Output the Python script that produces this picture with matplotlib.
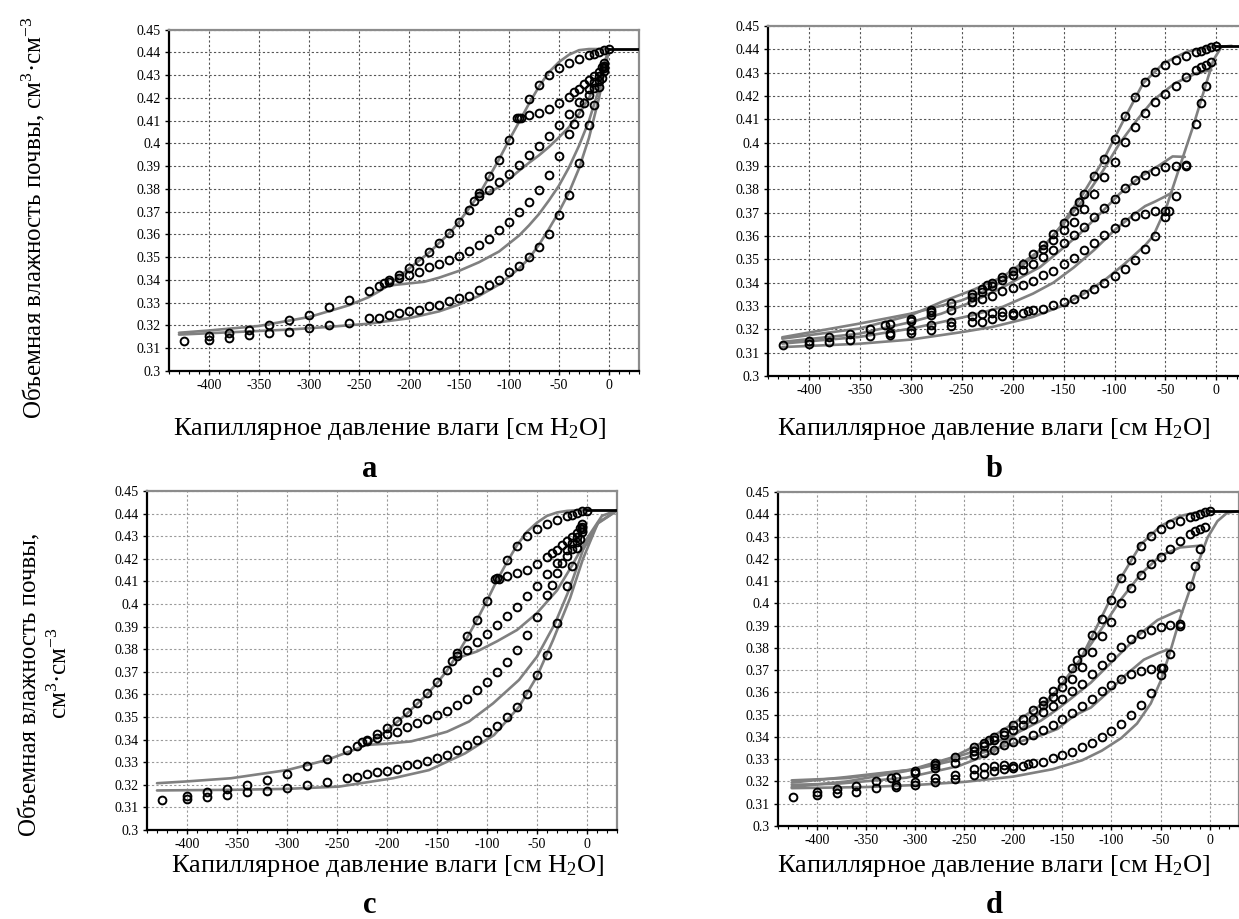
import matplotlib
matplotlib.use("Agg")
import matplotlib.pyplot as plt
from matplotlib.ticker import MultipleLocator, FuncFormatter

plt.rcParams['font.family'] = ['Liberation Serif', 'DejaVu Serif']
plt.rcParams['mathtext.fontset'] = 'custom'
plt.rcParams['mathtext.rm'] = 'Liberation Serif'
plt.rcParams['mathtext.it'] = 'Liberation Serif:italic'
plt.rcParams['mathtext.bf'] = 'Liberation Serif:bold'
plt.rcParams['axes.unicode_minus'] = False

# ---------------- observed data (circles) ----------------
# main drying branch (shared by all panels)
main_dry_x = [0, -5, -10, -15, -20, -30, -40, -50, -60, -70, -80, -90, -100, -110, -120, -130, -135, -140, -150,
              -160, -170, -180, -190, -200, -210, -220, -225, -230, -240, -260, -280, -300, -320, -340, -360, -380,
              -400, -425]
main_dry_y = [0.4413, 0.4411, 0.4401, 0.4392, 0.4389, 0.4370, 0.4355, 0.4333, 0.4301, 0.4258, 0.4194, 0.4113,
              0.4015, 0.3929, 0.3857, 0.3782, 0.3747, 0.3709, 0.3657, 0.3607, 0.3562, 0.3521, 0.3482, 0.3452,
              0.3423, 0.3400, 0.3388, 0.3373, 0.3353, 0.3312, 0.3282, 0.3246, 0.3222, 0.3200, 0.3180, 0.3166,
              0.3152, 0.3132]

# panels a, c : wetting branches
ac_wet_x = [-400, -380, -360, -340, -320, -300, -280, -260, -240, -230, -220, -210, -200, -190, -180, -170, -160,
            -150, -140, -130, -120, -110, -100, -90, -80, -70, -60, -50, -40, -30, -20, -15, -10, -7, -5]
ac_wet_y = [0.3138, 0.3145, 0.3157, 0.3167, 0.3172, 0.3187, 0.3200, 0.3213, 0.3232, 0.3235, 0.3247, 0.3256,
            0.3262, 0.3270, 0.3287, 0.3290, 0.3307, 0.3320, 0.3330, 0.3355, 0.3376, 0.3400, 0.3433, 0.3462,
            0.3500, 0.3545, 0.3600, 0.3685, 0.3775, 0.3915, 0.4080, 0.4170, 0.4250, 0.4288, 0.4330]
ac_s220_x = [-220, -210, -200, -190, -180, -170, -160, -150, -140, -130, -120, -110, -100, -90, -80, -70, -60,
             -50, -40, -35, -30, -25, -20, -15, -10, -5]
ac_s220_y = [0.3393, 0.3408, 0.3423, 0.3435, 0.3455, 0.3472, 0.3490, 0.3507, 0.3528, 0.3552, 0.3580, 0.3618,
             0.3655, 0.3700, 0.3742, 0.3797, 0.3862, 0.3943, 0.4040, 0.4086, 0.4136, 0.4180, 0.4213, 0.4245,
             0.4275, 0.4320]
ac_s130_x = [-130, -120, -110, -100, -90, -80, -70, -60, -50, -40, -30, -20, -15, -10, -5]
ac_s130_y = [0.3768, 0.3797, 0.3832, 0.3866, 0.3906, 0.3948, 0.3988, 0.4035, 0.4080, 0.4131, 0.4183, 0.4238,
             0.4270, 0.4296, 0.4340]
ac_s90_x = [-92, -88, -80, -70, -60, -50, -40, -35, -30, -25, -20, -15, -10, -7, -5]
ac_s90_y = [0.4110, 0.4112, 0.4126, 0.4136, 0.4150, 0.4176, 0.4206, 0.4225, 0.4240, 0.4262, 0.4280, 0.4298,
            0.4316, 0.4337, 0.4355]

# panels b, d : drying scanning branches + wetting branch
bd_s5_x = [-5, -10, -15, -20, -30, -40, -50, -60, -70, -80, -90, -100, -110, -120, -130, -140, -150, -160, -170,
           -180, -190, -200, -210, -220, -230, -240, -260, -280, -300, -320]
bd_s5_y = [0.4344, 0.4333, 0.4323, 0.4312, 0.4280, 0.4245, 0.4209, 0.4176, 0.4128, 0.4069, 0.4002, 0.3917,
           0.3852, 0.3781, 0.3714, 0.3660, 0.3624, 0.3581, 0.3545, 0.3480, 0.3455, 0.3431, 0.3410, 0.3384,
           0.3360, 0.3338, 0.3284, 0.3274, 0.3236, 0.3185]
bd_s30_x = [-30, -40, -50, -60, -70, -80, -90, -100, -110, -120, -130, -140, -150, -160, -170, -180, -190, -200,
            -210, -220, -230, -240, -280, -325]
bd_s30_y = [0.3906, 0.3902, 0.3895, 0.3880, 0.3863, 0.3838, 0.3805, 0.3760, 0.3721, 0.3681, 0.3638, 0.3605,
            0.3571, 0.3541, 0.3510, 0.3409, 0.3388, 0.3378, 0.3363, 0.3343, 0.3328, 0.3317, 0.3260, 0.3217]
bd_s50_x = [-47, -50, -60, -70, -80, -90, -100, -110, -120, -130, -140, -150, -160, -170, -200, -210, -220, -230,
            -240, -260, -280, -300]
bd_s50_y = [0.3709, 0.3709, 0.3706, 0.3695, 0.3684, 0.3659, 0.3635, 0.3605, 0.3571, 0.3538, 0.3507, 0.3480,
            0.3452, 0.3431, 0.3270, 0.3274, 0.3270, 0.3266, 0.3256, 0.3231, 0.3217, 0.3196]
bd_wet_x = [-400, -380, -360, -340, -320, -300, -280, -260, -240, -230, -220, -210, -200, -190, -185, -180, -170,
            -160, -150, -140, -130, -120, -110, -100, -90, -80, -70, -60, -50, -40, -30, -20, -15, -10]
bd_wet_y = [0.3139, 0.3146, 0.3153, 0.3170, 0.3176, 0.3186, 0.3196, 0.3213, 0.3231, 0.3233, 0.3246, 0.3256,
            0.3260, 0.3270, 0.3278, 0.3284, 0.3287, 0.3306, 0.3319, 0.3331, 0.3353, 0.3374, 0.3398, 0.3428,
            0.3459, 0.3498, 0.3545, 0.3598, 0.3680, 0.3773, 0.3899, 0.4080, 0.4169, 0.4244]

# ---------------- model curves (gray lines) ----------------
a_fit_dry_x = [-430, -400, -350, -300, -260, -240, -230, -220, -200, -180, -160, -150, -140, -130, -120, -110,
               -100, -90, -80, -70, -60, -50, -40, -30, -20, -10, 0]
a_fit_dry_y = [0.3168, 0.3178, 0.3198, 0.3237, 0.3289, 0.3325, 0.3350, 0.3378, 0.3450, 0.3520, 0.3604, 0.3655,
               0.3715, 0.3775, 0.3852, 0.3930, 0.4014, 0.4094, 0.4175, 0.4250, 0.4314, 0.4358, 0.4390, 0.4410,
               0.4415, 0.4415, 0.4415]
a_fit_s130_x = [-130, -120, -110, -100, -90, -80, -70, -60, -50, -40, -30, -20, -10, 0]
a_fit_s130_y = [0.3772, 0.3786, 0.3808, 0.3843, 0.3880, 0.3915, 0.3948, 0.3985, 0.4027, 0.4072, 0.4130, 0.4200,
                0.4290, 0.4413]
a_fit_s220_x = [-228, -215, -200, -185, -170, -150, -130, -110, -90, -80, -70, -60, -50, -40, -30, -20, -10, 0]
a_fit_s220_y = [0.3365, 0.3378, 0.3385, 0.3392, 0.3410, 0.3440, 0.3478, 0.3525, 0.3595, 0.3640, 0.3690, 0.3750,
                0.3815, 0.3895, 0.3990, 0.4100, 0.4240, 0.4413]
a_fit_wet_x = [-430, -400, -360, -320, -280, -240, -200, -170, -150, -130, -110, -100, -90, -80, -70, -60, -50,
               -40, -30, -20, -10, 0]
a_fit_wet_y = [0.3160, 0.3166, 0.3174, 0.3182, 0.3194, 0.3208, 0.3232, 0.3262, 0.3292, 0.3330, 0.3380, 0.3415,
               0.3450, 0.3495, 0.3555, 0.3625, 0.3700, 0.3785, 0.3890, 0.4025, 0.4200, 0.4413]

b_fit_dry_x = [-426, -351, -300, -250, -220, -200, -170, -154, -131, -111, -91, -72, -52, -29, -10, 0]
b_fit_dry_y = [0.3166, 0.3224, 0.3267, 0.3324, 0.3378, 0.3438, 0.3550, 0.3635, 0.3780, 0.3925, 0.4097, 0.4254,
               0.4340, 0.4390, 0.4408, 0.4414]
b_fit_s5_x = [-5, -20, -41, -62, -78, -95, -111, -131, -150, -173, -210, -240, -270, -300, -351, -426]
b_fit_s5_y = [0.4311, 0.4297, 0.4254, 0.4182, 0.4097, 0.3997, 0.3882, 0.3753, 0.3653, 0.3539, 0.3424, 0.3367,
              0.3317, 0.3260, 0.3203, 0.3160]
b_fit_s30_x = [-31, -43, -56, -75, -95, -114, -134, -153, -173, -210, -240, -270, -300, -351, -426]
b_fit_s30_y = [0.3939, 0.3941, 0.3903, 0.3853, 0.3781, 0.3696, 0.3610, 0.3539, 0.3467, 0.3380, 0.3317, 0.3267,
               0.3231, 0.3181, 0.3146]
b_fit_s45_x = [-44, -51, -60, -70, -82, -100, -120, -140, -160, -180, -210, -240, -270, -300, -351, -426]
b_fit_s45_y = [0.3785, 0.3768, 0.3748, 0.3728, 0.3689, 0.3625, 0.3540, 0.3465, 0.3400, 0.3353, 0.3296, 0.3260,
               0.3231, 0.3203, 0.3167, 0.3139]
b_fit_wet_x = [-426, -351, -300, -250, -220, -180, -150, -130, -110, -90, -70, -62, -49, -36, -23, -13, -3, 5, 15]
b_fit_wet_y = [0.3124, 0.3138, 0.3156, 0.3188, 0.3210, 0.3253, 0.3303, 0.3353, 0.3410, 0.3481, 0.3560, 0.3600,
               0.3725, 0.3897, 0.4068, 0.4211, 0.4354, 0.4411, 0.4415]

c_fit_dry_x = [-430, -400, -356, -300, -260, -230, -220, -200, -180, -160, -150, -140, -130, -120, -110, -100,
               -90, -80, -70, -60, -50, -40, -30, -20, -10, 0]
c_fit_dry_y = [0.3207, 0.3215, 0.3229, 0.3265, 0.3310, 0.3360, 0.3378, 0.3440, 0.3515, 0.3600, 0.3650, 0.3705,
               0.3775, 0.3850, 0.3930, 0.4015, 0.4105, 0.4185, 0.4260, 0.4320, 0.4360, 0.4390, 0.4405, 0.4412,
               0.4415, 0.4415]
c_fit_s130_x = [-130, -110, -90, -70, -50, -30, -15, 0, 15, 30]
c_fit_s130_y = [0.3760, 0.3790, 0.3835, 0.3885, 0.3960, 0.4060, 0.4170, 0.4290, 0.4390, 0.4415]
c_fit_s220_x = [-222, -200, -176, -160, -140, -118, -94, -68, -50, -32, -18, -4, 11, 30]
c_fit_s220_y = [0.3376, 0.3382, 0.3392, 0.3410, 0.3435, 0.3480, 0.3560, 0.3664, 0.3767, 0.3914, 0.4062, 0.4239,
                0.4357, 0.4413]
c_fit_wet_x = [-430, -350, -300, -248, -194, -158, -122, -93, -68, -50, -34, -17, -4, 11, 29]
c_fit_wet_y = [0.3175, 0.3178, 0.3182, 0.3192, 0.3229, 0.3265, 0.3339, 0.3420, 0.3545, 0.3680, 0.3840, 0.4025,
               0.4200, 0.4360, 0.4410]

d_fit_dry_x = [-426, -370, -309, -263, -232, -204, -168, -152, -132, -111, -91, -70, -50, -30, -10, 0]
d_fit_dry_y = [0.3175, 0.3200, 0.3247, 0.3307, 0.3374, 0.3449, 0.3555, 0.3625, 0.3745, 0.3930, 0.4110, 0.4265,
               0.4347, 0.4392, 0.4412, 0.4415]
d_fit_s10_x = [-8, -12, -30, -50, -70, -91, -111, -132, -152, -172, -193, -221, -256, -309, -379, -426]
d_fit_s10_y = [0.4262, 0.4258, 0.4251, 0.4214, 0.4132, 0.4014, 0.3880, 0.3747, 0.3629, 0.3515, 0.3430, 0.3329,
               0.3269, 0.3217, 0.3190, 0.3185]
d_fit_s30_x = [-28, -31, -53, -70, -87, -104, -121, -138, -155, -172, -200, -240, -300, -370, -426]
d_fit_s30_y = [0.3960, 0.3969, 0.3925, 0.3866, 0.3792, 0.3718, 0.3644, 0.3584, 0.3525, 0.3473, 0.3410, 0.3335,
               0.3255, 0.3215, 0.3205]
d_fit_s45_x = [-40, -43, -52, -67, -87, -104, -121, -138, -155, -172, -200, -250, -300, -370, -426]
d_fit_s45_y = [0.3790, 0.3792, 0.3777, 0.3747, 0.3673, 0.3599, 0.3532, 0.3496, 0.3436, 0.3407, 0.3370, 0.3305,
               0.3255, 0.3220, 0.3195]
d_fit_wet_x = [-426, -350, -300, -250, -200, -160, -130, -110, -90, -74, -60, -50, -40, -30, -21, -12, -2, 8, 18, 28]
d_fit_wet_y = [0.3170, 0.3175, 0.3184, 0.3198, 0.3222, 0.3255, 0.3295, 0.3338, 0.3395, 0.3460, 0.3550, 0.3650,
               0.3785, 0.3935, 0.4050, 0.4177, 0.4296, 0.4369, 0.4407, 0.4413]

# saturated plateau (black segment)
sat_x = [0, 30]
sat_y = [0.4415, 0.4415]

xlabel_text = "Капиллярное давление влаги [см H$_2$O]"
ylabel_text = "Объемная влажность почвы, см$^3$·см$^{-3}$"
ylabel_line1 = "Объемная влажность почвы,"
ylabel_line2 = "см$^3$·см$^{-3}$"
panel_letters = ["a", "b", "c", "d"]

# ---------------- figure ----------------
W, H = 1239, 919
fig = plt.figure(figsize=(W / 100, H / 100), dpi=100)


def add_ax(l, t, r, b):
    return fig.add_axes([l / W, 1 - b / H, (r - l) / W, (b - t) / H])


def style(ax, gridcol):
    ax.set_xlim(-440, 30)
    ax.set_ylim(0.3, 0.45)
    ax.xaxis.set_major_locator(MultipleLocator(50))
    ax.xaxis.set_minor_locator(MultipleLocator(10))
    ax.yaxis.set_major_locator(MultipleLocator(0.01))
    ax.yaxis.set_major_formatter(FuncFormatter(lambda v, p: f"{v:.2f}".rstrip('0')))
    ax.xaxis.set_major_formatter(FuncFormatter(lambda v, p: "%d" % round(v)))
    ax.tick_params(axis='both', which='major', direction='out', length=3, width=1, labelsize=10, pad=3,
                   colors='black')
    ax.tick_params(axis='x', which='minor', direction='out', length=2, width=0.8)
    ax.grid(True, which='major', linestyle=(0, (2, 2)), linewidth=0.8, color=gridcol)
    ax.set_axisbelow(True)
    for s in ['left', 'bottom']:
        ax.spines[s].set_color('black')
        ax.spines[s].set_linewidth(1.6)
    for s in ['top', 'right']:
        ax.spines[s].set_color('#8c8c8c')
        ax.spines[s].set_linewidth(1.6)


LC = '#808080'
LW = 1.9


def draw(ax, fits, obs):
    for fx, fy in fits:
        ax.plot(fx, fy, color=LC, lw=LW, zorder=2, solid_capstyle='round')
    for ox, oy in obs:
        ax.plot(ox, oy, linestyle='none', marker='o', ms=5.6, mfc='none', mec='black', mew=1.4, zorder=3)
    ax.plot(sat_x, sat_y, color='black', lw=2.0, zorder=4)


ac_obs = [(main_dry_x, main_dry_y), (ac_wet_x, ac_wet_y), (ac_s220_x, ac_s220_y),
          (ac_s130_x, ac_s130_y), (ac_s90_x, ac_s90_y)]
bd_obs = [(main_dry_x, main_dry_y), (bd_s5_x, bd_s5_y), (bd_s30_x, bd_s30_y),
          (bd_s50_x, bd_s50_y), (bd_wet_x, bd_wet_y)]

ax_a = add_ax(169, 29.7, 639, 371)
style(ax_a, '#555555')
draw(ax_a, [(a_fit_dry_x, a_fit_dry_y), (a_fit_s130_x, a_fit_s130_y), (a_fit_s220_x, a_fit_s220_y),
            (a_fit_wet_x, a_fit_wet_y)], ac_obs)

ax_b = add_ax(768, 26, 1247, 376)
style(ax_b, '#555555')
draw(ax_b, [(b_fit_dry_x, b_fit_dry_y), (b_fit_s5_x, b_fit_s5_y), (b_fit_s30_x, b_fit_s30_y),
            (b_fit_s45_x, b_fit_s45_y), (b_fit_wet_x, b_fit_wet_y)], bd_obs)

ax_c = add_ax(147, 491, 617, 830)
style(ax_c, '#9a9a9a')
draw(ax_c, [(c_fit_dry_x, c_fit_dry_y), (c_fit_s130_x, c_fit_s130_y), (c_fit_s220_x, c_fit_s220_y),
            (c_fit_wet_x, c_fit_wet_y)], ac_obs)

ax_d = add_ax(778, 492, 1239, 826)
style(ax_d, '#9a9a9a')
draw(ax_d, [(d_fit_dry_x, d_fit_dry_y), (d_fit_s10_x, d_fit_s10_y), (d_fit_s30_x, d_fit_s30_y),
            (d_fit_s45_x, d_fit_s45_y), (d_fit_wet_x, d_fit_wet_y)], bd_obs)

# x labels
for cx, by in [(390, 435), (994, 435), (388, 872), (994, 872)]:
    fig.text(cx / W, 1 - by / H, xlabel_text, ha='center', va='baseline', fontsize=19)

# panel letters
for (cx, by), let in zip([(370, 477), (994, 477), (370, 913), (994, 913)], panel_letters):
    fig.text(cx / W, 1 - by / H, let, ha='center', va='baseline', fontsize=22, fontweight='bold')

# y labels
fig.text(41.7 / W, 1 - 218 / H, ylabel_text, rotation=90, rotation_mode='anchor',
         ha='center', va='baseline', fontsize=18)
fig.text(36.7 / W, 1 - 684 / H, ylabel_line1, rotation=90, rotation_mode='anchor',
         ha='center', va='baseline', fontsize=18)
fig.text(66.7 / W, 1 - 673 / H, ylabel_line2, rotation=90, rotation_mode='anchor',
         ha='center', va='baseline', fontsize=18)

fig.savefig("out.png", dpi=100, facecolor='white')
